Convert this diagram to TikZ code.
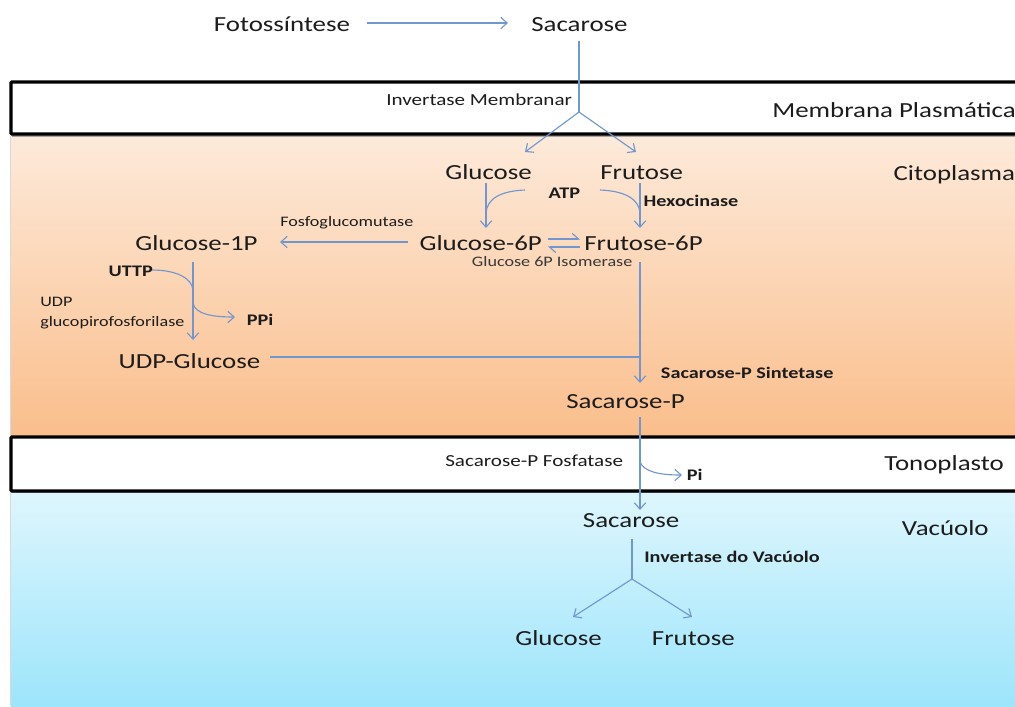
\documentclass[tikz,border=0pt]{standalone}
\usepackage{fontspec}
\setmainfont{Carlito}[FakeStretch=1.25]
\usetikzlibrary{arrows.meta}
\definecolor{txt}{RGB}{28,28,28}
\definecolor{isotxt}{RGB}{55,55,55}
\definecolor{arrc}{RGB}{114,150,206}
\definecolor{cytTop}{RGB}{253,234,218}
\definecolor{cytBot}{RGB}{250,190,140}
\definecolor{vacTop}{RGB}{222,246,253}
\definecolor{vacBot}{RGB}{157,229,251}
\tikzset{
  lbl/.style={inner sep=0pt, anchor=base west, text=txt},
  mainlbl/.style={lbl, font=\fontsize{15.3pt}{18pt}\selectfont},
  enzb/.style={lbl, font=\fontsize{11.5pt}{14pt}\selectfont\bfseries},
  enzr/.style={lbl, font=\fontsize{12pt}{14pt}\selectfont},
  enzs/.style={lbl, font=\fontsize{10.3pt}{12pt}\selectfont},
  conn/.style={draw=arrc, line width=0.8pt},
  arr/.style={conn, -{Straight Barb[length=4.5pt,width=8pt]}},
  harp/.style={conn, -{Straight Barb[length=4.5pt,width=8pt,harpoon]}},
  band/.style={draw=black, line width=2.2pt, fill=white, rounded corners=0.5pt},
}
\begin{document}
\begin{tikzpicture}[x=0.025cm, y=-0.025cm]
\useasboundingbox (0,0) rectangle (1015,706);
\fill[white] (0,0) rectangle (1015,706);
% regions
\shade[top color=cytTop, bottom color=cytBot] (11,136) rectangle (1015,435);
\shade[top color=vacTop, bottom color=vacBot] (11,492) rectangle (1015,706);
\draw[black!15, line width=0.8pt] (10.5,136) -- (10.5,706);
\begin{scope}
\clip (0,0) rectangle (1015,706);
\draw[black!35, line width=1pt] (12,136) -- (1030,136);
\draw[band] (11,82) rectangle (1030,134);
\draw[black!35, line width=1pt] (12,492.5) -- (1030,492.5);
\draw[band] (11,437) rectangle (1030,491);
\end{scope}

% labels
\node[mainlbl] (fot) at (213.6,31.7) {Fotossíntese};
\node[mainlbl] (sac1) at (531,31.7) {Sacarose};
\node[enzr] (invm) at (386,105) {Invertase Membranar};
\node[mainlbl] (memb) at (772,117) {Membrana Plasmática};
\node[mainlbl] (glc1) at (445,179.3) {Glucose};
\node[mainlbl] (fru1) at (600,179.3) {Frutose};
\node[mainlbl] (cito) at (893.3,180) {Citoplasma};
\node[enzb] (atp) at (548.3,198.3) {ATP};
\node[enzb] (hex) at (643.3,206) {Hexocinase};
\node[mainlbl] (g6p) at (419.3,250) {Glucose-6P};
\node[mainlbl] (f6p) at (584,250) {Frutose-6P};
\node[enzs, text=isotxt] (iso) at (471.7,266.7) {Glucose 6P Isomerase};
\node[enzs] (fgm) at (280,226.7) {Fosfoglucomutase};
\node[mainlbl] (g1p) at (135,250) {Glucose-1P};
\node[enzb] (uttp) at (108.3,276) {UTTP};
\node[enzs] (udpe) at (40,306) {UDP};
\node[enzs] (gpf) at (40,326.7) {glucopirofosforilase};
\node[enzb] (ppi) at (246.7,325) {PPi};
\node[mainlbl] (udpg) at (118.3,368.3) {UDP-Glucose};
\node[enzb] (sps) at (660.7,378.3) {Sacarose-P Sintetase};
\node[mainlbl] (sacp) at (566,408) {Sacarose-P};
\node[enzr] (fosf) at (445,466.7) {Sacarose-P Fosfatase};
\node[enzb] (pi) at (686.7,480) {Pi};
\node[mainlbl] (tono) at (884,470) {Tonoplasto};
\node[mainlbl] (sac2) at (582.7,527) {Sacarose};
\node[mainlbl] (vac) at (901.7,535) {Vacúolo};
\node[enzb] (ivac) at (644,562.7) {Invertase do Vacúolo};
\node[mainlbl] (glc2) at (515,645) {Glucose};
\node[mainlbl] (fru2) at (651.7,645) {Frutose};

% connector points
\coordinate (fotE) at (367,23);
\coordinate (sac1W) at (508,23);
\coordinate (sac1S) at (579,41);
\coordinate (j1) at (579,112);
\coordinate (glc1N) at (525,152);
\coordinate (fru1N) at (636,152);
\coordinate (glc1S) at (486,183);
\coordinate (g6pN) at (486,228);
\coordinate (fru1S) at (640,183);
\coordinate (f6pN) at (640,228);
\coordinate (atpW) at (525,190);
\coordinate (atpJ) at (486,213);
\coordinate (atpE) at (600,190);
\coordinate (hexJ) at (640,213);
\coordinate (g6pW) at (408,242);
\coordinate (g1pE) at (280,242);
\coordinate (g1pS) at (193,262);
\coordinate (udpgN) at (193,340);
\coordinate (uttpE) at (152,270);
\coordinate (uttpJ) at (193,290);
\coordinate (ppiJ) at (193,303);
\coordinate (ppiW) at (235,317);
\coordinate (udpgE) at (270,357);
\coordinate (udpgJ) at (640,357);
\coordinate (f6pS) at (640,262);
\coordinate (sacpN) at (640,383);
\coordinate (sacpS) at (640,417);
\coordinate (sac2N) at (640,510);
\coordinate (piJ) at (640,462);
\coordinate (piW) at (682,475);
\coordinate (sac2S) at (632,539);
\coordinate (j2) at (632,579);
\coordinate (glc2N) at (573,617);
\coordinate (fru2N) at (692,617);

% connectors
\draw[arr] (fotE) -- (sac1W);
\draw[conn] (sac1S) -- (j1);
\draw[arr] (j1) -- (glc1N);
\draw[arr] (j1) -- (fru1N);
\draw[arr] (glc1S) -- (g6pN);
\draw[conn] (atpW) .. controls (500,191) and (487,199) .. (atpJ);
\draw[arr] (fru1S) -- (f6pN);
\draw[conn] (atpE) .. controls (625,191) and (639,199) .. (hexJ);
\draw[harp] (548,239) -- (580,239);
\draw[harp] (580,247) -- (548,247);
\draw[arr] (g6pW) -- (g1pE);
\draw[arr] (g1pS) -- (udpgN);
\draw[conn] (uttpE) .. controls (176,270) and (192,278) .. (uttpJ);
\draw[arr] (ppiJ) .. controls (195,314) and (212,317) .. (ppiW);
\draw[conn] (udpgE) -- (udpgJ);
\draw[arr] (f6pS) -- (sacpN);
\draw[arr] (sacpS) -- (sac2N);
\draw[arr] (piJ) .. controls (644,472) and (660,475) .. (piW);
\draw[conn] (sac2S) -- (j2);
\draw[arr] (j2) -- (glc2N);
\draw[arr] (j2) -- (fru2N);
\end{tikzpicture}
\end{document}
